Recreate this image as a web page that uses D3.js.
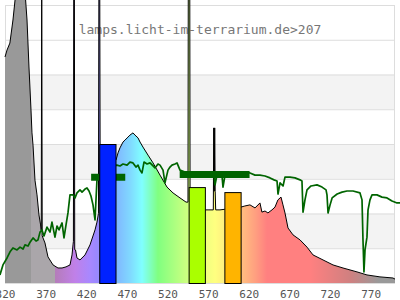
<!DOCTYPE html>
<html><head><meta charset="utf-8">
<script src="https://cdn.jsdelivr.net/npm/d3@7"></script>
<style>body{margin:0;background:#fff}svg{display:block}</style>
</head><body>
<svg id="c" width="400" height="300"></svg>
<script>
const titleText = "lamps.licht-im-terrarium.de>207";
const xTicks = [320,370,420,470,520,570,620,670,720,770];

// lamp emission spectrum (nm, relative value 0-100)
const spectrumNm = [320,322.5,326,329.8,333.5,338,344.6,347.1,349.5,352,353.2,354.5,356.9,359.4,361.8,363.8,364.6,365.2,365.8,366.8,369.2,372.9,379.1,385.2,390.2,395.1,400,402.5,403.7,404.2,404.6,405.4,405.8,406.8,408.6,412.3,418.5,424.6,430.8,433.2,435,435.6,436.6,437.2,440,449,456.6,459.1,461.5,465.2,467.7,471.4,473.8,477.5,480,483.7,486.2,489.8,496,502.2,510.8,519.4,526.8,535.4,542.8,545.2,545.6,547.4,547.8,552,560,566.2,571,576.4,576.9,577.5,578.1,578.7,579.3,584.6,590,600,610.3,615.2,621.5,627.7,633.8,636.2,640,643.6,648.6,652.3,655.9,659.7,662.1,664.6,668.3,674.5,683.1,691.7,699.1,711.4,723.7,736,753.2,765.5,781.5,797.5,800];
const spectrumVal = [81.3,83.8,86.3,94.6,105,112,105,94.6,77.7,62.2,54,49.6,37,31.7,24.5,20.9,19,112,17,16.2,14.4,9.4,6.5,5.4,5.4,5.8,6.5,10.1,13.7,15,112,112,12,11.9,9.0,8.3,10.1,13.7,19.1,21.9,25,112,112,30,34,42.4,44.2,46.8,48.6,50.7,51.4,52.5,53.2,54,53.2,52.2,50.7,48.9,46,43.2,38.8,34.5,32.4,30.6,29.1,29.1,112,112,29,28,27,26.3,26.3,26.3,55.8,33,55.8,33,26.3,26.3,26.5,27,27.3,27.7,28.1,27,28.8,25.5,25.9,25.2,26.3,27.3,29.9,30.9,28.1,25.2,19.8,17.3,15.5,12.9,10.1,8.3,6.5,5.4,4.0,2.9,2.2,1.8,1.4];

// sunlight reference spectrum (nm, relative value)
const sunNm = [313.8,317.5,322.5,326.2,329.8,334.8,338.5,342.2,344.6,348.3,350.8,354.5,358.2,360.6,363.1,365.5,368,371.7,375.4,377.8,381.5,384,386.5,390.2,392.6,395.1,397.5,400,403.7,406.2,408.6,412.3,414.8,418.5,420.9,423.4,425.8,428.3,430.8,433.2,443.1,451.7,457.8,461.5,465.2,470.2,473.8,477.5,481.2,483.7,486.2,488.6,491.1,494.8,498.5,502.2,504.6,508.3,510.8,514.5,516.9,520.6,523.1,525.5,529.2,531.7,535.4,541.5,553.8,566.2,577.2,578.5,580.9,587.1,588.3,590.8,603.1,615.4,621.5,627.7,633.8,640,646.2,651.1,654.8,656,658.5,662.2,664.6,670.8,676.9,683.1,685.5,686.8,689.2,691.7,696.6,704,710.2,715.1,716.3,717.6,720.1,722.6,728.8,734.8,740.9,748.3,756.9,759.4,760.6,761.8,763.1,765.5,766.8,769.2,771.7,777.8,784,790.2,796.3,802.5,806.2];
const sunVal = [2.9,6.5,9.0,11.2,12.6,11.9,12.9,12.2,13.7,13.3,14.7,16.2,15.1,15.5,18.3,19.1,16.9,20.1,18.3,21.9,16.5,20.5,19.1,21.6,16.2,20.9,25.2,31.7,31.7,30.6,32.4,33.5,32.7,33.8,34.2,33.1,31.3,28.1,22.7,37.1,40.6,42.1,42.4,42.1,42.8,42.4,43.5,43.2,41.7,42.4,40.6,39.6,43.5,42.8,43.2,42.1,41.4,42.8,42.4,40.6,36.0,40.6,41.7,42.4,42.8,43.2,40.6,39.9,39.6,39.2,38.8,35.3,38.8,38.5,34.5,38.8,39.2,39.6,39.6,38.8,38.8,38.5,37.8,37.1,36.7,32.0,36.0,34.9,38.1,38.1,37.8,37.1,36.7,25.5,29.9,33.5,34.9,35.3,34.5,33.5,31.7,25.2,28.1,30.6,32.0,32.7,33.1,33.1,32.4,29.9,15.5,4.0,11.9,16.5,26.3,29.9,31.7,31.7,30.9,30.6,29.5,28.8,28.8];

// sunlight averages over two ranges
const avgStart = [426,535];
const avgEnd = [468,621];
const avgVal = [38,39];

// colour-range bars
const barStart = [436,546,590];
const barEnd = [456,566,610];
const barVal = [50,34.5,32.7];
const barColors = ["#0022ff","#aaff00","#ffb400"];

// spectrum colour stops (nm, colour)
const stopNm = [320,352,352,381,381,406,424.6,433,457.8,473.8,488.6,498.5,508.3,523,541.5,566,578.5,589.5,610.5,627.7,642.5,695.4,744.6,780,800];
const stopColor = ["#999999","#999999","#aaa6aa","#aaa6aa","#b47cb8","#c080e8","#a888ff","#9a88ff","#80b8ff","#80d8ff","#80ffff","#80ffc0","#80ff80","#a0ff80","#c8ff80","#eeff80","#ffff80","#fff080","#ffc080","#ffa080","#ff8080","#ff8080","#d08080","#999999","#999999"];

const svg = d3.select("#c");
const x = d3.scaleLinear().domain([320,800]).range([5,395]);
const y = d3.scaleLinear().domain([0,100]).range([283,5]);

// gradient
const defs = svg.append("defs");
const grad = defs.append("linearGradient").attr("id","spec")
  .attr("gradientUnits","userSpaceOnUse")
  .attr("x1",x(320)).attr("x2",x(800)).attr("y1",0).attr("y2",0);
stopNm.forEach((n,i)=>{
  grad.append("stop").attr("offset",(n-320)/480).attr("stop-color",stopColor[i]);
});

// background bands
const bands = [[12.5,25],[37.5,50],[62.5,75]];
svg.selectAll("rect.band").data(bands).enter().append("rect")
  .attr("x",x(320)).attr("width",x(800)-x(320))
  .attr("y",d=>y(d[1])).attr("height",d=>y(d[0])-y(d[1]))
  .attr("fill","#f3f3f3");
const gridVals = d3.range(0,100.01,12.5);
svg.selectAll("line.grid").data(gridVals).enter().append("line")
  .attr("x1",x(320)).attr("x2",x(800))
  .attr("y1",d=>y(d)+0.5).attr("y2",d=>y(d)+0.5)
  .attr("stroke","#dddddd").attr("stroke-width",1);
svg.append("rect").attr("x",x(320)+0.5).attr("y",y(100)+0.5)
  .attr("width",x(800)-x(320)-1).attr("height",y(0)-y(100))
  .attr("fill","none").attr("stroke","#dddddd");

// title
svg.append("text").attr("x",200).attr("y",34).attr("text-anchor","middle")
  .attr("font-family","DejaVu Sans Mono").attr("font-size",13).attr("fill","#777")
  .text(titleText);

// spectrum
const spec = spectrumNm.map((n,i)=>[n,spectrumVal[i]]);
svg.append("path").datum(spec)
  .attr("d",d3.area().x(d=>x(d[0])).y0(y(0)).y1(d=>y(d[1])))
  .attr("fill","url(#spec)");
svg.append("path").datum(spec)
  .attr("d",d3.line().x(d=>x(d[0])).y(d=>y(d[1])))
  .attr("fill","none").attr("stroke","#000").attr("stroke-width",1);

// sunlight line
const sun = sunNm.map((n,i)=>[n,sunVal[i]]);
svg.append("path").datum(sun)
  .attr("d",d3.line().x(d=>x(d[0])).y(d=>y(d[1])))
  .attr("fill","none").attr("stroke","#006400").attr("stroke-width",1.7)
  .attr("stroke-linejoin","round");

// averages
svg.selectAll("line.avg").data(avgVal).enter().append("line")
  .attr("x1",(d,i)=>x(avgStart[i])).attr("x2",(d,i)=>x(avgEnd[i]))
  .attr("y1",d=>y(d)).attr("y2",d=>y(d))
  .attr("stroke","#006400").attr("stroke-width",7);

// bars
svg.selectAll("rect.bar").data(barVal).enter().append("rect")
  .attr("x",(d,i)=>x(barStart[i])+0.5).attr("width",(d,i)=>x(barEnd[i])-x(barStart[i]))
  .attr("y",d=>y(d)+0.5).attr("height",d=>y(0)-y(d))
  .attr("fill",(d,i)=>barColors[i]).attr("stroke","#000").attr("stroke-width",1);

// x axis labels
const ax = svg.append("g").attr("transform",`translate(0,${y(0)})`)
  .call(d3.axisBottom(x).tickValues(xTicks).tickSize(0).tickPadding(7).tickFormat(d3.format("d")));
ax.select(".domain").remove();
ax.selectAll("text").attr("font-family","DejaVu Sans Mono").attr("font-size",11).attr("fill","#555");
</script>
</body></html>
